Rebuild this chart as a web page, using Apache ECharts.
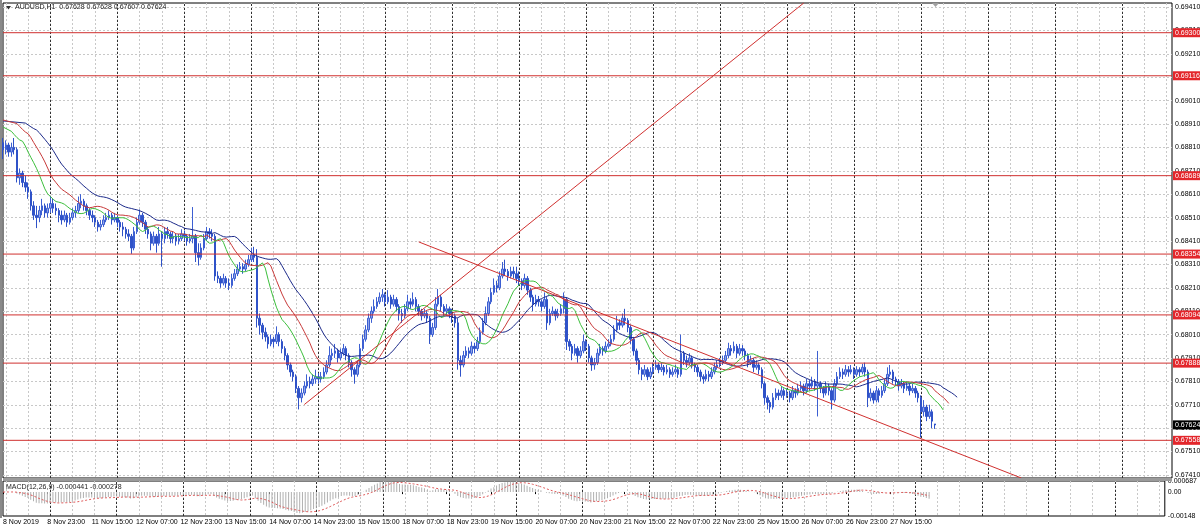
<!DOCTYPE html>
<html><head><meta charset="utf-8">
<script src="https://cdn.jsdelivr.net/npm/echarts/dist/echarts.min.js"></script>
<style>html,body{margin:0;padding:0;background:#fff}#c{width:1200px;height:531px}</style>
</head><body><div id="c"></div><script>
// ---------- data (AUDUSD H1, 8 Nov 2019 07:00 .. 28 Nov 2019) ----------
const opens=[.68830,.68800,.68820,.68790,.68810,.68800,.68680,.68700,.68660,.68640,
.68620,.68560,.68520,.68510,.68540,.68560,.68530,.68550,.68570,.68550,
.68540,.68520,.68500,.68520,.68490,.68510,.68530,.68540,.68570,.68580,
.68560,.68540,.68520,.68510,.68490,.68470,.68480,.68500,.68510,.68520,
.68500,.68510,.68490,.68470,.68460,.68440,.68430,.68380,.68450,.68490,
.68520,.68490,.68460,.68440,.68400,.68430,.68400,.68440,.68420,.68450,
.68440,.68420,.68430,.68410,.68420,.68440,.68430,.68410,.68420,.68430,
.68360,.68340,.68380,.68420,.68450,.68440,.68430,.68260,.68250,.68230,
.68250,.68230,.68220,.68250,.68270,.68290,.68300,.68290,.68310,.68330,
.68350,.68340,.68080,.68050,.68020,.68000,.67970,.67990,.67980,.68010,
.67980,.67950,.67920,.67880,.67850,.67830,.67780,.67740,.67760,.67790,
.67810,.67800,.67820,.67830,.67820,.67830,.67850,.67880,.67920,.67930,
.67940,.67910,.67930,.67950,.67920,.67890,.67860,.67840,.67880,.67950,
.67990,.68030,.68080,.68110,.68130,.68150,.68170,.68180,.68150,.68170,
.68140,.68160,.68130,.68100,.68090,.68120,.68150,.68140,.68160,.68130,
.68110,.68090,.68100,.68080,.68010,.68040,.68140,.68170,.68130,.68110,
.68120,.68100,.68090,.68060,.67900,.67880,.67920,.67940,.67930,.67960,
.67950,.67980,.68020,.68060,.68100,.68150,.68190,.68220,.68210,.68260,
.68290,.68280,.68260,.68280,.68270,.68250,.68240,.68220,.68250,.68200,
.68170,.68140,.68160,.68150,.68130,.68160,.68060,.68100,.68110,.68090,
.68100,.68120,.68160,.67980,.67960,.67930,.67950,.67920,.67940,.67980,
.67960,.67910,.67880,.67890,.67930,.67950,.67940,.67960,.67970,.67990,
.68030,.68060,.68050,.68080,.68070,.68040,.67990,.67940,.67900,.67860,
.67840,.67860,.67830,.67850,.67870,.67880,.67860,.67870,.67850,.67860,
.67840,.67850,.67860,.67840,.67930,.67900,.67890,.67910,.67880,.67870,
.67850,.67830,.67820,.67840,.67830,.67850,.67870,.67880,.67890,.67900,
.67920,.67950,.67940,.67960,.67930,.67950,.67940,.67920,.67890,.67900,
.67870,.67880,.67860,.67800,.67740,.67720,.67700,.67740,.67760,.67750,
.67770,.67750,.67760,.67740,.67770,.67760,.67780,.67790,.67770,.67800,
.67790,.67810,.67790,.67800,.67780,.67760,.67790,.67770,.67730,.67800,
.67830,.67850,.67840,.67860,.67850,.67860,.67840,.67860,.67850,.67870,
.67850,.67740,.67760,.67730,.67770,.67750,.67770,.67800,.67840,.67850,
.67820,.67810,.67790,.67800,.67780,.67790,.67770,.67780,.67760,.67740,
.67680,.67700,.67660,.67680,.67628];
const closes=[.68800,.68820,.68790,.68810,.68800,.68680,.68700,.68660,.68640,.68620,
.68560,.68520,.68510,.68540,.68560,.68530,.68550,.68570,.68550,.68540,
.68520,.68500,.68520,.68490,.68510,.68530,.68540,.68570,.68580,.68560,
.68540,.68520,.68510,.68490,.68470,.68480,.68500,.68510,.68520,.68500,
.68510,.68490,.68470,.68460,.68440,.68430,.68380,.68450,.68490,.68520,
.68490,.68460,.68440,.68400,.68430,.68400,.68440,.68420,.68450,.68440,
.68420,.68430,.68410,.68420,.68440,.68430,.68410,.68420,.68430,.68360,
.68340,.68380,.68420,.68450,.68440,.68430,.68260,.68250,.68230,.68250,
.68230,.68220,.68250,.68270,.68290,.68300,.68290,.68310,.68330,.68350,
.68340,.68080,.68050,.68020,.68000,.67970,.67990,.67980,.68010,.67980,
.67950,.67920,.67880,.67850,.67830,.67780,.67740,.67760,.67790,.67810,
.67800,.67820,.67830,.67820,.67830,.67850,.67880,.67920,.67930,.67940,
.67910,.67930,.67950,.67920,.67890,.67860,.67840,.67880,.67950,.67990,
.68030,.68080,.68110,.68130,.68150,.68170,.68180,.68150,.68170,.68140,
.68160,.68130,.68100,.68090,.68120,.68150,.68140,.68160,.68130,.68110,
.68090,.68100,.68080,.68010,.68040,.68140,.68170,.68130,.68110,.68120,
.68100,.68090,.68060,.67900,.67880,.67920,.67940,.67930,.67960,.67950,
.67980,.68020,.68060,.68100,.68150,.68190,.68220,.68210,.68260,.68290,
.68280,.68260,.68280,.68270,.68250,.68240,.68220,.68250,.68200,.68170,
.68140,.68160,.68150,.68130,.68160,.68060,.68100,.68110,.68090,.68100,
.68120,.68160,.67980,.67960,.67930,.67950,.67920,.67940,.67980,.67960,
.67910,.67880,.67890,.67930,.67950,.67940,.67960,.67970,.67990,.68030,
.68060,.68050,.68080,.68070,.68040,.67990,.67940,.67900,.67860,.67840,
.67860,.67830,.67850,.67870,.67880,.67860,.67870,.67850,.67860,.67840,
.67850,.67860,.67840,.67930,.67900,.67890,.67910,.67880,.67870,.67850,
.67830,.67820,.67840,.67830,.67850,.67870,.67880,.67890,.67900,.67920,
.67950,.67940,.67960,.67930,.67950,.67940,.67920,.67890,.67900,.67870,
.67880,.67860,.67800,.67740,.67720,.67700,.67740,.67760,.67750,.67770,
.67750,.67760,.67740,.67770,.67760,.67780,.67790,.67770,.67800,.67790,
.67810,.67790,.67800,.67780,.67760,.67790,.67770,.67730,.67800,.67830,
.67850,.67840,.67860,.67850,.67860,.67840,.67860,.67850,.67870,.67850,
.67740,.67760,.67730,.67770,.67750,.67770,.67800,.67840,.67850,.67820,
.67810,.67790,.67800,.67780,.67790,.67770,.67780,.67760,.67740,.67680,
.67700,.67660,.67680,.67640,.67624];
const highs=[.68850,.68840,.68830,.68830,.68850,.68810,.68720,.68710,.68690,.68660,
.68630,.68580,.68560,.68560,.68590,.68570,.68570,.68600,.68590,.68570,
.68550,.68540,.68540,.68530,.68530,.68550,.68560,.68600,.68610,.68590,
.68570,.68550,.68540,.68520,.68500,.68500,.68520,.68530,.68540,.68530,
.68530,.68520,.68500,.68490,.68470,.68460,.68440,.68470,.68510,.68545,
.68530,.68500,.68470,.68450,.68450,.68440,.68470,.68450,.68470,.68470,
.68450,.68450,.68440,.68440,.68460,.68455,.68440,.68440,.68555,.68440,
.68400,.68400,.68440,.68470,.68465,.68460,.68440,.68280,.68260,.68270,
.68260,.68250,.68270,.68290,.68310,.68320,.68315,.68330,.68350,.68380,
.68385,.68375,.68100,.68060,.68040,.68010,.68010,.68000,.68045,.68020,
.67990,.67960,.67930,.67890,.67860,.67840,.67790,.67780,.67810,.67840,
.67830,.67840,.67860,.67845,.67850,.67870,.67900,.67960,.67950,.67970,
.67950,.67950,.67970,.67960,.67930,.67900,.67870,.67900,.67970,.68010,
.68050,.68100,.68130,.68160,.68170,.68190,.68205,.68190,.68200,.68180,
.68180,.68170,.68140,.68120,.68140,.68180,.68165,.68190,.68170,.68140,
.68120,.68120,.68110,.68090,.68060,.68170,.68205,.68180,.68140,.68140,
.68130,.68120,.68100,.68080,.67920,.67940,.67960,.67955,.67980,.67975,
.68000,.68040,.68080,.68130,.68170,.68210,.68250,.68240,.68280,.68320,
.68330,.68290,.68300,.68300,.68300,.68280,.68250,.68270,.68260,.68210,
.68180,.68180,.68175,.68160,.68190,.68170,.68120,.68130,.68120,.68120,
.68140,.68190,.68170,.67990,.67970,.67970,.67960,.67960,.68010,.67990,
.67970,.67920,.67910,.67950,.67970,.67960,.67980,.67990,.68010,.68050,
.68090,.68075,.68100,.68120,.68080,.68050,.68000,.67950,.67910,.67870,
.67880,.67870,.67870,.67890,.67900,.67890,.67890,.67880,.67880,.67870,
.67870,.67880,.67870,.68010,.67940,.67920,.67930,.67920,.67890,.67880,
.67860,.67840,.67860,.67855,.67870,.67890,.67900,.67910,.67920,.67940,
.67975,.67965,.67980,.67970,.67970,.67965,.67950,.67930,.67920,.67910,
.67900,.67890,.67870,.67810,.67750,.67730,.67760,.67780,.67775,.67790,
.67780,.67780,.67770,.67790,.67780,.67800,.67810,.67800,.67820,.67815,
.67830,.67820,.67940,.67810,.67790,.67810,.67800,.67780,.67820,.67850,
.67870,.67865,.67880,.67875,.67880,.67870,.67875,.67870,.67885,.67890,
.67860,.67780,.67770,.67790,.67780,.67790,.67820,.67870,.67880,.67860,
.67830,.67820,.67820,.67810,.67810,.67800,.67800,.67790,.67770,.67750,
.67730,.67710,.67710,.67690,.67628];
const lows=[.68760,.68780,.68770,.68770,.68780,.68660,.68650,.68640,.68620,.68590,
.68540,.68500,.68465,.68490,.68520,.68510,.68510,.68530,.68530,.68520,
.68490,.68480,.68490,.68470,.68480,.68500,.68510,.68530,.68550,.68540,
.68520,.68500,.68490,.68470,.68450,.68455,.68470,.68490,.68500,.68480,
.68490,.68470,.68450,.68430,.68420,.68410,.68355,.68370,.68440,.68480,
.68470,.68440,.68420,.68370,.68390,.68360,.68390,.68300,.68400,.68420,
.68400,.68400,.68390,.68395,.68410,.68410,.68390,.68400,.68400,.68320,
.68305,.68330,.68370,.68410,.68420,.68410,.68240,.68230,.68210,.68220,
.68210,.68200,.68210,.68240,.68260,.68280,.68270,.68280,.68300,.68320,
.68320,.68040,.68010,.67990,.67980,.67950,.67960,.67955,.67970,.67960,
.67930,.67900,.67860,.67830,.67810,.67760,.67690,.67720,.67750,.67780,
.67780,.67790,.67800,.67800,.67805,.67820,.67840,.67870,.67900,.67910,
.67890,.67900,.67920,.67900,.67870,.67830,.67800,.67830,.67870,.67940,
.67980,.68020,.68060,.68100,.68120,.68140,.68150,.68130,.68140,.68120,
.68130,.68110,.68070,.68060,.68080,.68110,.68120,.68130,.68110,.68090,
.68070,.68080,.68060,.67970,.68000,.68030,.68130,.68110,.68090,.68090,
.68080,.68060,.68040,.67860,.67830,.67870,.67910,.67910,.67920,.67930,
.67940,.67970,.68010,.68050,.68090,.68140,.68180,.68190,.68200,.68250,
.68260,.68240,.68250,.68250,.68230,.68220,.68200,.68210,.68180,.68150,
.68110,.68130,.68130,.68110,.68120,.68030,.68050,.68090,.68070,.68080,
.68090,.68100,.67944,.67940,.67900,.67920,.67890,.67910,.67930,.67940,
.67890,.67855,.67860,.67880,.67920,.67920,.67930,.67950,.67960,.67980,
.68020,.68030,.68040,.68050,.68020,.67970,.67920,.67880,.67840,.67815,
.67830,.67815,.67820,.67840,.67860,.67845,.67850,.67835,.67840,.67825,
.67830,.67840,.67825,.67830,.67880,.67870,.67880,.67865,.67850,.67830,
.67810,.67800,.67810,.67810,.67820,.67840,.67860,.67870,.67880,.67890,
.67910,.67920,.67930,.67910,.67920,.67920,.67900,.67870,.67880,.67850,
.67860,.67840,.67780,.67710,.67690,.67675,.67690,.67730,.67730,.67740,
.67730,.67740,.67720,.67730,.67740,.67750,.67770,.67750,.67760,.67770,
.67780,.67770,.67660,.67760,.67740,.67750,.67750,.67690,.67720,.67790,
.67820,.67820,.67830,.67830,.67840,.67820,.67830,.67830,.67840,.67830,
.67700,.67725,.67715,.67720,.67720,.67740,.67760,.67790,.67830,.67800,
.67790,.67770,.67780,.67760,.67770,.67750,.67760,.67740,.67720,.67570,
.67660,.67640,.67650,.67610,.67607];

// horizontal levels (red lines) and the current bid
const levels=[0.69300,0.69116,0.68689,0.68354,0.68094,0.67888,0.67558];
const lastPrice=0.67624;
// right-hand price scale labels
const priceTicks=[0.67410,0.67510,0.67610,0.67710,0.67810,0.67910,0.68010,0.68110,0.68210,0.68310,
0.68410,0.68510,0.68610,0.68710,0.68810,0.68910,0.69010,0.69110,0.69210,0.69310,0.69410];
const macdTicks=[-0.00148,0,0.000687];
const macdTickText=['-0.00148','0.00','0.000687'];
// time scale labels (bar index -> text)
const xTickIdx=[0,16,32,48,64,80,96,112,128,144,160,176,192,208,224,240,256,272,288,304,320];
const xTickText=['8 Nov 2019','8 Nov 23:00','11 Nov 15:00','12 Nov 07:00','12 Nov 23:00','13 Nov 15:00',
'14 Nov 07:00','14 Nov 23:00','15 Nov 15:00','18 Nov 07:00','18 Nov 23:00','19 Nov 15:00','20 Nov 07:00',
'20 Nov 23:00','21 Nov 15:00','22 Nov 07:00','22 Nov 23:00','25 Nov 15:00','26 Nov 07:00','26 Nov 23:00','27 Nov 15:00'];
// dark vertical separators (bar slots)
const darkVLines=[17,41,65,89,113,137,161,185,209,233,257,281,305,329,353,377,401];
// trend lines [bar index, price]
const risingLine=[[108,0.67711],[287,0.69427]];
const fallingLine=[[149,0.68406],[365,0.67397]];
// Alligator values at the left edge of the chart
const jawStart=0.68923, teethStart=0.68927, lipsStart=0.68897;
const macdTitle='MACD(12,26,9) -0.000441 -0.000278';
const chartTitle='AUDUSD,H1  0.67628 0.67628 0.67607 0.67624';

// ---------- derived ----------
const N=420;
const cats=Array.from({length:N},(_,i)=>String(i));
const tickMap=new Map(xTickIdx.map((v,i)=>[v,xTickText[i]]));
const ohlc=closes.map((c,i)=>[opens[i],c,lows[i],highs[i]]);
const median=highs.map((h,i)=>(h+lows[i])/2);
function smmaShift(src,n,shift,seed){
  const out=new Array(N).fill(null); out[0]=seed; let s=seed;
  src.forEach((v,i)=>{ s=(s*(n-1)+v)/n; if(i+shift<N) out[i+shift]=+s.toFixed(6); });
  return out;
}
const jaw=smmaShift(median,13,8,jawStart);
const teeth=smmaShift(median,8,5,teethStart);
const lips=smmaShift(median,5,3,lipsStart);
function ema(src,n){const k=2/(n+1);let e=src[0];return src.map(v=>(e=e+k*(v-e)));}
const e12=ema(closes,12), e26=ema(closes,26);
const macd=e12.map((v,i)=>+(v-e26[i]).toFixed(7));
const signal=macd.map((v,i)=>{const a=macd.slice(Math.max(0,i-8),i+1);return +(a.reduce((s,x)=>s+x,0)/a.length).toFixed(7);});

const FONT='Liberation Sans';
const RED='#d0302f';
const CLEAR='rgba(0,0,0,0)';
const chart=echarts.init(document.getElementById('c'),null,{renderer:'canvas'});
const vSplit={show:true,interval:(i)=>i%8===1,lineStyle:{color:'#c8c8c8',type:[2,2],width:1}};
const levelSeries=levels.map((v,k)=>({name:'lvl'+k,type:'line',xAxisIndex:0,yAxisIndex:0,
  data:[[0,v],[N-1,v]],symbol:'none',z:6,silent:true,lineStyle:{color:RED,width:1,type:'solid'}}));
chart.setOption({
  animation:false,
  backgroundColor:'#ffffff',
  textStyle:{fontFamily:FONT},
  grid:[
    {left:3,right:28,top:3,height:475,show:true,borderColor:'#000',borderWidth:1,backgroundColor:'#fff'},
    {left:3,right:28,top:481,height:35,show:true,borderColor:'#000',borderWidth:1,backgroundColor:'#fff'}
  ],
  xAxis:[
    {type:'category',gridIndex:0,data:cats,boundaryGap:false,axisLine:{show:false},axisTick:{show:false},axisLabel:{show:false},splitLine:vSplit},
    {type:'category',gridIndex:1,data:cats,boundaryGap:false,axisLine:{show:false},
     axisTick:{show:true,interval:(i)=>tickMap.has(i),length:2,lineStyle:{color:'#000'}},
     axisLabel:{show:true,interval:(i)=>tickMap.has(i),formatter:(v,i)=>tickMap.get(i)||'',align:'left',fontSize:7,fontFamily:FONT,color:'#000',margin:3},
     splitLine:vSplit}
  ],
  yAxis:[
    {type:'value',gridIndex:0,position:'right',min:0.67397,max:0.69427,axisLine:{show:false},axisTick:{show:false},axisLabel:{show:false},splitLine:{show:false}},
    {type:'value',gridIndex:1,position:'right',min:-0.00148,max:0.000687,axisLine:{show:false},axisTick:{show:false},splitLine:{show:false},
     axisLabel:{show:true,customValues:macdTicks,formatter:(v)=>{const k=macdTicks.findIndex(t=>Math.abs(t-v)<1e-9);return k>=0?macdTickText[k]:'';},fontSize:7,fontFamily:FONT,color:'#000',margin:3}}
  ],
  series:[
    {name:'hgrid',type:'line',xAxisIndex:0,yAxisIndex:0,data:[],silent:true,
     markLine:{z:1,silent:true,precision:6,symbol:['none','none'],animation:false,
       lineStyle:{color:'#c8c8c8',type:[2,2],width:1},
       label:{show:true,position:'end',distance:3,formatter:(p)=>Number(p.value).toFixed(5),fontSize:7,fontFamily:FONT,color:'#000'},
       data:priceTicks.map(v=>({yAxis:v}))}},
    {name:'vdark',type:'line',xAxisIndex:0,yAxisIndex:0,data:[],silent:true,
     markLine:{z:1,silent:true,symbol:['none','none'],animation:false,
       lineStyle:{color:'#303030',type:[2,2],width:1},label:{show:false},
       data:darkVLines.map(v=>({xAxis:v}))}},
    {name:'vdark2',type:'line',xAxisIndex:1,yAxisIndex:1,data:[],silent:true,
     markLine:{z:1,silent:true,symbol:['none','none'],animation:false,
       lineStyle:{color:'#303030',type:[2,2],width:1},label:{show:false},
       data:darkVLines.map(v=>({xAxis:v}))}},
    {name:'price',type:'candlestick',xAxisIndex:0,yAxisIndex:0,data:ohlc,z:3,barWidth:2,
     itemStyle:{color:'#8fa4e8',color0:'#2f52c8',borderColor:'#3c5fd2',borderColor0:'#2f52c8',borderWidth:1}},
    {name:'jaw',type:'line',xAxisIndex:0,yAxisIndex:0,data:jaw,connectNulls:true,symbol:'none',z:4,lineStyle:{color:'#1c2a8a',width:1}},
    {name:'teeth',type:'line',xAxisIndex:0,yAxisIndex:0,data:teeth,connectNulls:true,symbol:'none',z:4,lineStyle:{color:'#c83a3a',width:1}},
    {name:'lips',type:'line',xAxisIndex:0,yAxisIndex:0,data:lips,connectNulls:true,symbol:'none',z:4,lineStyle:{color:'#3cbf3c',width:1}},
    {name:'rise',type:'line',xAxisIndex:0,yAxisIndex:0,data:risingLine,symbol:'none',z:5,lineStyle:{color:RED,width:1}},
    {name:'fall',type:'line',xAxisIndex:0,yAxisIndex:0,data:fallingLine,symbol:'none',z:5,lineStyle:{color:RED,width:1}},
    ...levelSeries,
    {name:'levelLabels',type:'line',xAxisIndex:0,yAxisIndex:0,data:[],silent:true,
     markLine:{z:6,silent:true,precision:6,symbol:['none','none'],animation:false,
       lineStyle:{color:CLEAR,width:1},
       label:{show:true,position:'end',distance:1,formatter:(p)=>Number(p.value).toFixed(5),fontSize:7,fontFamily:FONT,color:'#fff',backgroundColor:'#e3262b',padding:[1,3,1,2]},
       data:levels.map(v=>({yAxis:v}))}},
    {name:'bid',type:'line',xAxisIndex:0,yAxisIndex:0,data:[],silent:true,
     markLine:{z:7,silent:true,precision:6,symbol:['none','none'],animation:false,
       lineStyle:{color:CLEAR,width:1},
       label:{show:true,position:'end',distance:1,formatter:(p)=>Number(p.value).toFixed(5),fontSize:7,fontFamily:FONT,color:'#fff',backgroundColor:'#000',padding:[1,3,1,2]},
       data:[{yAxis:lastPrice}]}},
    {name:'macd',type:'bar',xAxisIndex:1,yAxisIndex:1,data:macd,barWidth:1,z:3,itemStyle:{color:'#b0b0b0'}},
    {name:'signal',type:'line',xAxisIndex:1,yAxisIndex:1,data:signal,symbol:'none',z:4,lineStyle:{color:'#e05a5a',width:1,type:[2,2]}}
  ],
  graphic:[
    {type:'rect',left:0,top:0,shape:{width:2,height:518},style:{fill:'#8a8a8a'},z:10},
    {type:'rect',left:3,top:478,shape:{width:1169,height:3},style:{fill:'#9a9a9a'},z:10},
    {type:'polygon',shape:{points:[[6,6],[11,6],[8.5,9.5]]},style:{fill:'#333'},z:10},
    {type:'text',left:15,top:4,style:{text:chartTitle,font:'7px "Liberation Sans"',fill:'#222'},z:10},
    {type:'text',left:6,top:484,style:{text:macdTitle,font:'7px "Liberation Sans"',fill:'#222'},z:10},
    {type:'polygon',shape:{points:[[932,3],[939,3],[935.5,7]]},style:{fill:'#a0a0a0'},z:10}
  ]
});
</script></body></html>
